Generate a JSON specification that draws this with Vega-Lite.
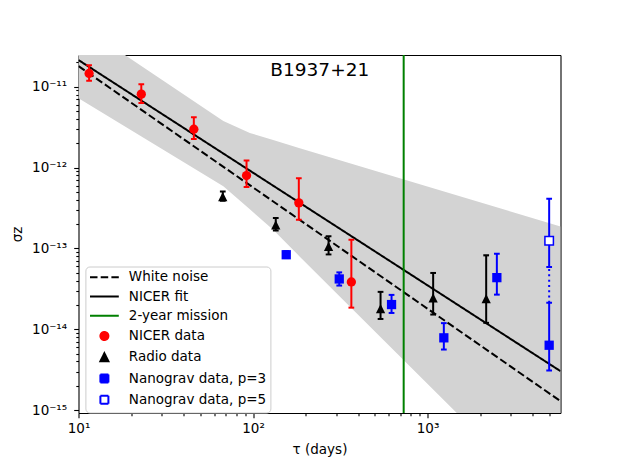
{
  "$schema": "https://vega.github.io/schema/vega-lite/v6.json",
  "width": 482,
  "height": 358,
  "autosize": {"type": "none"},
  "padding": {"left": 78.5, "top": 55, "right": 62.5, "bottom": 53},
  "background": "white",
  "datasets": {
    "band": [
      {"tau": 10, "lo": 7.19e-12, "hi": 6.0e-11},
      {"tau": 67.6, "lo": 5.89e-13, "hi": 3.77e-12},
      {"tau": 95.9, "lo": 3.05e-13, "hi": 2.68e-12},
      {"tau": 130.4, "lo": 1.70e-13, "hi": 2.19e-12},
      {"tau": 185.4, "lo": 7.91e-14, "hi": 1.73e-12},
      {"tau": 1466, "lo": 9.29e-16, "hi": 4.55e-13},
      {"tau": 5780, "lo": 5.0e-17, "hi": 1.87e-13}
    ],
    "fit": [
      {"series": "White noise", "tau": 10, "sigma": 1.80e-11},
      {"series": "White noise", "tau": 5780, "sigma": 1.29e-15},
      {"series": "NICER fit", "tau": 10, "sigma": 2.14e-11},
      {"series": "NICER fit", "tau": 5780, "sigma": 3.03e-15}
    ],
    "mission": [{"series": "2-year mission", "tau": 730}],
    "conn": [{"tau": 4977, "lo": 2.12e-14, "hi": 5.89e-14}],
    "label": [{"text": "B1937+21", "tau": 241.3, "sigma": 1.358e-11}],
    "pts": [
      {"series": "NICER data", "tau": 11.5, "sigma": 1.46e-11, "lo": 1.19e-11, "hi": 1.84e-11},
      {"series": "NICER data", "tau": 22.9, "sigma": 8.1e-12, "lo": 6.3e-12, "hi": 1.07e-11},
      {"series": "NICER data", "tau": 45.8, "sigma": 2.98e-12, "lo": 2.26e-12, "hi": 4.19e-12},
      {"series": "NICER data", "tau": 91.8, "sigma": 7.96e-13, "lo": 5.73e-13, "hi": 1.22e-12},
      {"series": "NICER data", "tau": 183, "sigma": 3.66e-13, "lo": 2.26e-13, "hi": 7.4e-13},
      {"series": "NICER data", "tau": 366, "sigma": 3.85e-14, "lo": 1.85e-14, "hi": 1.28e-13},
      {"series": "Radio data", "tau": 67.1, "sigma": 4.38e-13, "lo": 3.88e-13, "hi": 5.06e-13},
      {"series": "Radio data", "tau": 135, "sigma": 1.96e-13, "lo": 1.67e-13, "hi": 2.37e-13},
      {"series": "Radio data", "tau": 271, "sigma": 1.06e-13, "lo": 8.43e-14, "hi": 1.41e-13},
      {"series": "Radio data", "tau": 538, "sigma": 1.8e-14, "lo": 1.34e-14, "hi": 2.9e-14},
      {"series": "Radio data", "tau": 1077, "sigma": 2.44e-14, "lo": 1.52e-14, "hi": 4.97e-14},
      {"series": "Radio data", "tau": 2168, "sigma": 2.39e-14, "lo": 1.2e-14, "hi": 8.2e-14},
      {"series": "Nanograv data, p=3", "tau": 155, "sigma": 8.35e-14, "lo": 7.6e-14, "hi": 9.2e-14},
      {"series": "Nanograv data, p=3", "tau": 312, "sigma": 4.19e-14, "lo": 3.47e-14, "hi": 5.05e-14},
      {"series": "Nanograv data, p=3", "tau": 622, "sigma": 2.02e-14, "lo": 1.59e-14, "hi": 2.66e-14},
      {"series": "Nanograv data, p=3", "tau": 1240, "sigma": 7.83e-15, "lo": 5.61e-15, "hi": 1.19e-14},
      {"series": "Nanograv data, p=3", "tau": 2496, "sigma": 4.35e-14, "lo": 2.68e-14, "hi": 8.6e-14},
      {"series": "Nanograv data, p=3", "tau": 4977, "sigma": 6.34e-15, "lo": 3.09e-15, "hi": 2.12e-14},
      {"series": "Nanograv data, p=5", "tau": 4977, "sigma": 1.245e-13, "lo": 5.89e-14, "hi": 4.11e-13}
    ]
  },
  "resolve": {"axis": {"x": "independent", "y": "independent"}},
  "layer": [
    {
      "data": {"name": "band"},
      "mark": {"type": "area", "color": "#d3d3d3", "opacity": 1, "clip": true},
      "encoding": {
        "x": {
          "field": "tau", "type": "quantitative",
          "scale": {"type": "log", "domain": [10, 5780], "nice": false},
          "axis": {"orient": "top", "ticks": false, "labels": false, "title": null, "domain": true}
        },
        "y": {
          "field": "lo", "type": "quantitative",
          "scale": {"type": "log", "domain": [9.2e-16, 2.47e-11], "nice": false},
          "axis": {"orient": "right", "ticks": false, "labels": false, "title": null, "domain": true}
        },
        "y2": {"field": "hi"}
      }
    },
    {
      "data": {"name": "fit"},
      "mark": {"type": "line", "strokeWidth": 2, "clip": true},
      "encoding": {
        "x": {
          "field": "tau", "type": "quantitative",
          "axis": {
            "orient": "bottom",
            "values": [10, 20, 30, 40, 50, 60, 70, 80, 90, 100, 200, 300, 400, 500, 600, 700, 800, 900, 1000, 2000, 3000, 4000, 5000],
            "labelExpr": "datum.value === 10 ? '10¹' : datum.value === 100 ? '10²' : datum.value === 1000 ? '10³' : ''",
            "tickSize": {"condition": {"test": "datum.value === 10 || datum.value === 100 || datum.value === 1000", "value": 4.8}, "value": 2.7},
            "labelPadding": 4,
            "labelFlush": false,
            "labelOverlap": false,
            "title": "τ (days)",
            "titlePadding": 7
          }
        },
        "y": {
          "field": "sigma", "type": "quantitative",
          "axis": {
            "orient": "left",
            "values": [1e-15, 2e-15, 3e-15, 4e-15, 5e-15, 6e-15, 7e-15, 8e-15, 9e-15, 1e-14, 2e-14, 3e-14, 4e-14, 5e-14, 6e-14, 7e-14, 8e-14, 9e-14, 1e-13, 2e-13, 3e-13, 4e-13, 5e-13, 6e-13, 7e-13, 8e-13, 9e-13, 1e-12, 2e-12, 3e-12, 4e-12, 5e-12, 6e-12, 7e-12, 8e-12, 9e-12, 1e-11, 2e-11],
            "labelExpr": "datum.value === 1e-15 ? '10⁻¹⁵' : datum.value === 1e-14 ? '10⁻¹⁴' : datum.value === 1e-13 ? '10⁻¹³' : datum.value === 1e-12 ? '10⁻¹²' : datum.value === 1e-11 ? '10⁻¹¹' : ''",
            "tickSize": {"condition": {"test": "datum.value === 1e-15 || datum.value === 1e-14 || datum.value === 1e-13 || datum.value === 1e-12 || datum.value === 1e-11", "value": 4.8}, "value": 2.7},
            "labelPadding": 7,
            "labelFlush": false,
            "labelOverlap": false,
            "title": "σz",
            "titlePadding": 7
          }
        },
        "stroke": {
          "field": "series", "type": "nominal",
          "scale": {"domain": ["White noise", "NICER fit", "2-year mission", "NICER data", "Radio data", "Nanograv data, p=3", "Nanograv data, p=5"], "range": ["#000000", "#000000", "#008000", "#ff0000", "#000000", "#0000ff", "#0000ff"]}
        },
        "strokeDash": {
          "field": "series", "type": "nominal",
          "scale": {"domain": ["White noise", "NICER fit", "2-year mission", "NICER data", "Radio data", "Nanograv data, p=3", "Nanograv data, p=5"], "range": [[7.5, 3.2], [1, 0], [1, 0], [1, 0], [1, 0], [1, 0], [1, 0]]}
        }
      }
    },
    {
      "data": {"name": "mission"},
      "mark": {"type": "rule", "strokeWidth": 2},
      "encoding": {
        "x": {"field": "tau", "type": "quantitative", "axis": null},
        "stroke": {
          "field": "series", "type": "nominal",
          "scale": {"domain": ["White noise", "NICER fit", "2-year mission", "NICER data", "Radio data", "Nanograv data, p=3", "Nanograv data, p=5"], "range": ["#000000", "#000000", "#008000", "#ff0000", "#000000", "#0000ff", "#0000ff"]}
        }
      }
    },
    {
      "data": {"name": "label"},
      "mark": {"type": "text", "font": "DejaVu Sans", "fontSize": 18.5, "color": "black", "align": "center", "baseline": "alphabetic"},
      "encoding": {
        "x": {"field": "tau", "type": "quantitative", "axis": null},
        "y": {"field": "sigma", "type": "quantitative", "axis": null},
        "text": {"field": "text"}
      }
    },
    {
      "data": {"name": "pts"},
      "mark": {"type": "rule", "strokeWidth": 2, "clip": true},
      "encoding": {
        "x": {"field": "tau", "type": "quantitative", "axis": null},
        "y": {"field": "lo", "type": "quantitative", "axis": null},
        "y2": {"field": "hi"},
        "stroke": {
          "field": "series", "type": "nominal",
          "scale": {"domain": ["White noise", "NICER fit", "2-year mission", "NICER data", "Radio data", "Nanograv data, p=3", "Nanograv data, p=5"], "range": ["#000000", "#000000", "#008000", "#ff0000", "#000000", "#0000ff", "#0000ff"]}
        }
      }
    },
    {
      "data": {"name": "conn"},
      "mark": {"type": "rule", "color": "#0000ff", "strokeWidth": 2, "strokeDash": [2, 3.3]},
      "encoding": {
        "x": {"field": "tau", "type": "quantitative", "axis": null},
        "y": {"field": "lo", "type": "quantitative", "axis": null},
        "y2": {"field": "hi"}
      }
    },
    {
      "data": {"name": "pts"},
      "mark": {"type": "point", "shape": "stroke", "size": 33, "strokeWidth": 2, "filled": false, "opacity": 1, "clip": true},
      "encoding": {
        "x": {"field": "tau", "type": "quantitative", "axis": null},
        "y": {"field": "lo", "type": "quantitative", "axis": null},
        "stroke": {
          "field": "series", "type": "nominal",
          "scale": {"domain": ["White noise", "NICER fit", "2-year mission", "NICER data", "Radio data", "Nanograv data, p=3", "Nanograv data, p=5"], "range": ["#000000", "#000000", "#008000", "#ff0000", "#000000", "#0000ff", "#0000ff"]}
        }
      }
    },
    {
      "data": {"name": "pts"},
      "mark": {"type": "point", "shape": "stroke", "size": 33, "strokeWidth": 2, "filled": false, "opacity": 1, "clip": true},
      "encoding": {
        "x": {"field": "tau", "type": "quantitative", "axis": null},
        "y": {"field": "hi", "type": "quantitative", "axis": null},
        "stroke": {
          "field": "series", "type": "nominal",
          "scale": {"domain": ["White noise", "NICER fit", "2-year mission", "NICER data", "Radio data", "Nanograv data, p=3", "Nanograv data, p=5"], "range": ["#000000", "#000000", "#008000", "#ff0000", "#000000", "#0000ff", "#0000ff"]}
        }
      }
    },
    {
      "data": {"name": "pts"},
      "transform": [{"filter": "datum.series !== 'Nanograv data, p=5'"}],
      "mark": {"type": "point", "filled": true, "size": 86, "strokeWidth": 0, "opacity": 1},
      "encoding": {
        "x": {"field": "tau", "type": "quantitative", "axis": null},
        "y": {"field": "sigma", "type": "quantitative", "axis": null},
        "shape": {
          "field": "series", "type": "nominal",
          "scale": {"domain": ["White noise", "NICER fit", "2-year mission", "NICER data", "Radio data", "Nanograv data, p=3", "Nanograv data, p=5"], "range": ["M-3.6,0H3.6", "M-3.6,0H3.6", "M-3.6,0H3.6", "circle", "M0,-1L1,1L-1,1Z", "square", "square"]}
        },
        "color": {
          "field": "series", "type": "nominal",
          "scale": {"domain": ["White noise", "NICER fit", "2-year mission", "NICER data", "Radio data", "Nanograv data, p=3", "Nanograv data, p=5"], "range": ["transparent", "transparent", "transparent", "#ff0000", "#000000", "#0000ff", "#ffffff"]},
          "legend": {
            "orient": "none",
            "legendX": 6.9,
            "legendY": 211.5,
            "title": null,
            "direction": "vertical",
            "columns": 1,
            "padding": 4,
            "rowPadding": 4.25,
            "symbolOffset": 8.25,
            "labelOffset": 17.65,
            "labelFont": "DejaVu Sans",
            "labelFontSize": 13.5,
            "labelColor": "black",
            "labelLimit": 300,
            "symbolSize": 64,
            "symbolStrokeWidth": 2,
            "symbolOpacity": 1,
            "fillColor": "rgba(255,255,255,0.8)",
            "strokeColor": "#cccccc",
            "cornerRadius": 4,
            "encode": {
              "legend": {
                "fill": {"value": "rgba(255,255,255,0.8)"},
                "stroke": {"value": "#cccccc"},
                "strokeWidth": {"value": 1},
                "cornerRadius": {"value": 4}
              }
            }
          }
        }
      }
    },
    {
      "data": {"name": "pts"},
      "transform": [{"filter": "datum.series === 'Nanograv data, p=5'"}],
      "mark": {"type": "point", "shape": "square", "filled": true, "fill": "#ffffff", "stroke": "#0000ff", "strokeWidth": 1.5, "size": 72, "opacity": 1},
      "encoding": {
        "x": {"field": "tau", "type": "quantitative", "axis": null},
        "y": {"field": "sigma", "type": "quantitative", "axis": null}
      }
    }
  ],
  "config": {
    "view": {"stroke": null},
    "font": "DejaVu Sans",
    "legend": {
      "fillColor": "rgba(255,255,255,0.8)",
      "strokeColor": "#cccccc",
      "cornerRadius": 4,
      "padding": 4,
      "strokeWidth": 1
    },
    "axis": {
      "labelFont": "DejaVu Sans",
      "labelFontSize": 13.5,
      "labelColor": "black",
      "titleFont": "DejaVu Sans",
      "titleFontSize": 13.5,
      "titleFontWeight": "normal",
      "titleColor": "black",
      "tickColor": "black",
      "tickWidth": 1.1,
      "domainColor": "black",
      "domainWidth": 1.1,
      "grid": false,
      "zindex": 1
    }
  }
}
